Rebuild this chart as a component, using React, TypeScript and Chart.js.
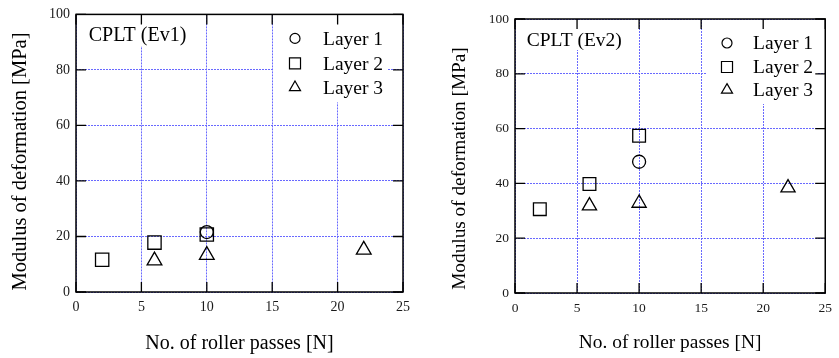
import React, { useEffect, useRef } from "react";
import { Chart, registerables } from "chart.js";

Chart.register(...registerables);

// ---- data ----
const xTickValues = [0, 5, 10, 15, 20, 25];
const yTickValues = [0, 20, 40, 60, 80, 100];
const seriesLabels = ["Layer 1", "Layer 2", "Layer 3"];
const seriesStyles = ["circle", "rect", "triangle"];
const xAxisTitle = "No. of roller passes [N]";
const yAxisTitle = "Modulus of deformation [MPa]";

const ev1Layer1 = [{ x: 10, y: 21.6 }];
const ev1Layer2 = [
  { x: 2, y: 11.6 },
  { x: 6, y: 17.8 },
  { x: 10, y: 20.7 },
];
const ev1Layer3 = [
  { x: 6, y: 11.3 },
  { x: 10, y: 13.3 },
  { x: 22, y: 15.2 },
];

const ev2Layer1 = [{ x: 10, y: 47.9 }];
const ev2Layer2 = [
  { x: 2, y: 30.6 },
  { x: 6, y: 39.8 },
  { x: 10, y: 57.4 },
];
const ev2Layer3 = [
  { x: 6, y: 31.8 },
  { x: 10, y: 32.8 },
  { x: 22, y: 38.4 },
];

const FONT = "'Liberation Serif', 'Times New Roman', Times, serif";

type Panel = {
  title: string;
  series: { x: number; y: number }[][];
  left: number;
  width: number;
  axisW: number;
  padRight: number;
  padTop: number;
  axisH: number;
  tickFont: number;
  yTitleFont: number;
  xTitleFont: number;
  labelFont: number;
  titleFont: number;
  titleX: number;
  titleBase: number;
  titleMask: number[];
  legendMask: number[];
  legendMarkerX: number;
  legendTextX: number;
  legendRows: number[];
  legendBaseOff: number;
  markerR: number[];
  legendR: number[];
  yTitleX: number;
  yTitleY: number;
  xTitleBase: number;
};

const panels: Panel[] = [
  {
    title: "CPLT (Ev1)",
    series: [ev1Layer1, ev1Layer2, ev1Layer3],
    left: 0,
    width: 420,
    axisW: 76,
    padRight: 17,
    padTop: 10,
    axisH: 66,
    tickFont: 14,
    yTitleFont: 20.5,
    xTitleFont: 20,
    labelFont: 19.5,
    titleFont: 20,
    titleX: 12.7,
    titleBase: 26.7,
    titleMask: [8, 0, 112, 31],
    legendMask: [198, 0, 113, 87],
    legendMarkerX: 219,
    legendTextX: 247,
    legendRows: [24, 49, 73],
    legendBaseOff: 6.5,
    markerR: [6.5, 9.4, 8.5],
    legendR: [5, 7.8, 6.4],
    yTitleX: 26,
    yTitleY: 161.5,
    xTitleBase: 348.5,
  },
  {
    title: "CPLT (Ev2)",
    series: [ev2Layer1, ev2Layer2, ev2Layer3],
    left: 420,
    width: 419,
    axisW: 95,
    padRight: 9,
    padTop: 19,
    axisH: 65,
    tickFont: 13.5,
    yTitleFont: 19.3,
    xTitleFont: 19.4,
    labelFont: 19.5,
    titleFont: 19.5,
    titleX: 11.7,
    titleBase: 26.7,
    titleMask: [8, 0, 108, 30],
    legendMask: [191, 0, 111, 84],
    legendMarkerX: 212,
    legendTextX: 238,
    legendRows: [24, 48, 71],
    legendBaseOff: 6.3,
    markerR: [6.5, 9.0, 8.2],
    legendR: [5, 7.8, 6.4],
    yTitleX: 44.8,
    yTitleY: 168.5,
    xTitleBase: 347.7,
  },
];

function drawMarker(ctx: CanvasRenderingContext2D, style: string, x: number, y: number, r: number) {
  ctx.beginPath();
  if (style === "circle") {
    ctx.arc(x, y, r, 0, Math.PI * 2);
  } else if (style === "rect") {
    const s = Math.SQRT1_2 * r;
    ctx.rect(x - s, y - s, 2 * s, 2 * s);
  } else {
    ctx.moveTo(x, y - r);
    ctx.lineTo(x + r * Math.sin((2 * Math.PI) / 3), y - r * Math.cos((2 * Math.PI) / 3));
    ctx.lineTo(x + r * Math.sin((4 * Math.PI) / 3), y - r * Math.cos((4 * Math.PI) / 3));
    ctx.closePath();
  }
  ctx.stroke();
}

function makePlugin(p: Panel) {
  return {
    id: "gnuplotFrame",
    beforeDatasetsDraw(chart: any) {
      const { ctx, chartArea: a } = chart;
      ctx.save();
      ctx.fillStyle = "#fff";
      const m1 = p.titleMask;
      ctx.fillRect(a.left + m1[0], a.top + 1, m1[2], m1[3]);
      const m2 = p.legendMask;
      ctx.fillRect(a.left + m2[0], a.top + 1, m2[2], m2[3]);
      ctx.restore();
    },
    afterDraw(chart: any) {
      const { ctx, chartArea: a } = chart;
      const xs = chart.scales.x;
      const ys = chart.scales.y;
      ctx.save();
      // title
      ctx.fillStyle = "#000";
      ctx.textAlign = "left";
      ctx.textBaseline = "alphabetic";
      ctx.font = `${p.titleFont}px ${FONT}`;
      ctx.fillText(p.title, a.left + p.titleX, a.top + p.titleBase);
      // legend
      ctx.font = `${p.labelFont}px ${FONT}`;
      ctx.strokeStyle = "#000";
      ctx.lineWidth = 1.2;
      seriesLabels.forEach((lab, i) => {
        const y = a.top + p.legendRows[i];
        drawMarker(ctx, seriesStyles[i], a.left + p.legendMarkerX, y, p.legendR[i]);
        ctx.fillText(lab, a.left + p.legendTextX, y + p.legendBaseOff);
      });
      // frame
      ctx.lineWidth = 1.5;
      ctx.strokeStyle = "#000";
      ctx.strokeRect(a.left, a.top, a.right - a.left, a.bottom - a.top);
      // inward ticks on all four sides
      ctx.lineWidth = 1.3;
      ctx.beginPath();
      xTickValues.forEach((v) => {
        const px = xs.getPixelForValue(v);
        ctx.moveTo(px, a.bottom);
        ctx.lineTo(px, a.bottom - 10);
        ctx.moveTo(px, a.top);
        ctx.lineTo(px, a.top + 10);
      });
      yTickValues.forEach((v) => {
        const py = ys.getPixelForValue(v);
        ctx.moveTo(a.left, py);
        ctx.lineTo(a.left + 10, py);
        ctx.moveTo(a.right, py);
        ctx.lineTo(a.right - 10, py);
      });
      ctx.stroke();
      // axis titles
      ctx.fillStyle = "#000";
      ctx.textAlign = "center";
      ctx.textBaseline = "alphabetic";
      ctx.font = `${p.xTitleFont}px ${FONT}`;
      ctx.fillText(xAxisTitle, (a.left + a.right) / 2, p.xTitleBase);
      ctx.save();
      ctx.translate(p.yTitleX, p.yTitleY);
      ctx.rotate(-Math.PI / 2);
      ctx.font = `${p.yTitleFont}px ${FONT}`;
      ctx.fillText(yAxisTitle, 0, 0);
      ctx.restore();
      ctx.restore();
    },
  };
}

function PanelChart({ p }: { p: Panel }) {
  const ref = useRef<HTMLCanvasElement | null>(null);
  useEffect(() => {
    if (!ref.current) return;
    const gridColor = "rgb(105,105,255)";
    const chart = new Chart(ref.current, {
      type: "scatter",
      data: {
        datasets: p.series.map((d, i) => ({
          label: seriesLabels[i],
          data: d,
          pointStyle: seriesStyles[i] as any,
          pointRadius: p.markerR[i],
          pointHoverRadius: p.markerR[i],
          borderColor: "#000",
          backgroundColor: "rgba(0,0,0,0)",
          pointBorderWidth: 1.3,
          showLine: false,
        })),
      },
      options: {
        responsive: false,
        animation: false,
        devicePixelRatio: 1,
        events: [],
        layout: { padding: { top: p.padTop, right: p.padRight, left: 0, bottom: 0 } },
        plugins: {
          legend: { display: false },
          tooltip: { enabled: false },
          title: { display: false },
        },
        scales: {
          x: {
            type: "linear",
            min: 0,
            max: 25,
            afterFit: (s: any) => {
              s.height = p.axisH;
            },
            afterBuildTicks: (s: any) => {
              s.ticks = xTickValues.map((v) => ({ value: v }));
            },
            ticks: {
              color: "#1a1a1a",
              padding: 7,
              maxRotation: 0,
              font: { family: FONT, size: p.tickFont },
            },
            grid: { color: gridColor, lineWidth: 1, drawTicks: false },
            border: { display: false, dash: [2, 1] },
          },
          y: {
            type: "linear",
            min: 0,
            max: 100,
            afterFit: (s: any) => {
              s.width = p.axisW;
            },
            afterBuildTicks: (s: any) => {
              s.ticks = yTickValues.map((v) => ({ value: v }));
            },
            ticks: {
              color: "#1a1a1a",
              padding: 6,
              font: { family: FONT, size: p.tickFont },
            },
            grid: { color: gridColor, lineWidth: 1, drawTicks: false },
            border: { display: false, dash: [2, 1] },
          },
        },
      },
      plugins: [makePlugin(p)],
    });
    return () => chart.destroy();
  }, [p]);
  return (
    <canvas
      ref={ref}
      width={p.width}
      height={358}
      style={{ position: "absolute", left: p.left, top: 0, width: p.width, height: 358 }}
    />
  );
}

export default function App() {
  return (
    <div style={{ position: "fixed", left: 0, top: 0, width: 839, height: 358, background: "#fff" }}>
      {panels.map((p) => (
        <PanelChart key={p.title} p={p} />
      ))}
    </div>
  );
}
